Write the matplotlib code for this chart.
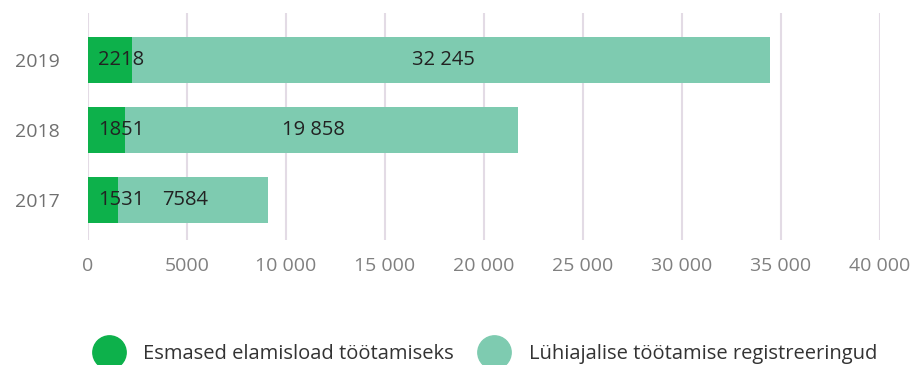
import matplotlib
matplotlib.use("Agg")
import matplotlib.pyplot as plt
from matplotlib.lines import Line2D

years = ["2017", "2018", "2019"]
first_permits = [1531, 1851, 2218]
short_term = [7584, 19858, 32245]
series_names = ["Esmased elamisload töötamiseks", "Lühiajalise töötamise registreeringud"]
xticks = [0, 5000, 10000, 15000, 20000, 25000, 30000, 35000, 40000]
xtick_labels = ["0", "5000", "10 000", "15 000", "20 000", "25 000", "30 000", "35 000", "40 000"]

def fmt(v):
    return f"{v:,}".replace(",", " ") if v >= 10000 else str(v)

plt.rcParams['font.family'] = ['Open Sans', 'DejaVu Sans']
dark = "#0db14b"
light = "#7ecbb0"

fig = plt.figure(figsize=(9.2, 3.65), dpi=100)
ax = fig.add_axes([88/920, 1-240/365, 792/920, 227/365])

ypos = list(range(len(years)))
ax.barh(ypos, first_permits, height=0.657, color=dark, zorder=3)
ax.barh(ypos, short_term, left=first_permits, height=0.657, color=light, zorder=3)

for y, a, b in zip(ypos, first_permits, short_term):
    ax.annotate(fmt(a), (0, y), xytext=(7, 0), textcoords="offset points",
                ha="left", va="center", fontsize=14.5, color="#222222", zorder=4)
    ax.text(a + b/2 - 400, y, fmt(b), ha="center", va="center", fontsize=14.5,
            color="#222222", zorder=4)

ax.set_xlim(0, 40000)
ax.set_ylim(-0.571, 2.671)
ax.set_xticks(xticks)
ax.set_xticklabels(xtick_labels)
ax.set_yticks(ypos)
ax.set_yticklabels(years)
ax.tick_params(axis="x", length=0, pad=12, labelsize=14, labelcolor="#808080")
ax.tick_params(axis="y", length=0, pad=20, labelsize=14, labelcolor="#707070")
for s in ax.spines.values():
    s.set_visible(False)
ax.grid(axis="x", color="#e3dbe5", linewidth=1.5, zorder=0)
ax.set_axisbelow(True)

handles = [Line2D([], [], marker="o", linestyle="none", markersize=24, markerfacecolor=c,
                  markeredgecolor=c) for c in (dark, light)]
fig.legend(handles, series_names, loc="center", bbox_to_anchor=(0.525, 0.03), ncol=2,
           frameon=False, fontsize=14.5, handletextpad=0.7, columnspacing=1.0,
           labelcolor="#333333")

fig.savefig("out.png", dpi=100)
